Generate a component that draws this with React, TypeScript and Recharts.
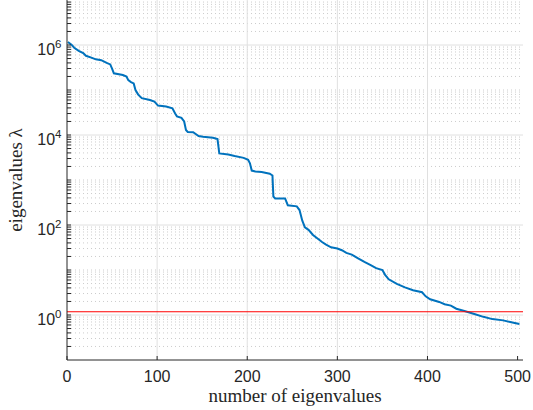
import { CartesianGrid, Line, LineChart, ReferenceLine, XAxis, YAxis } from "recharts";

// eigenvalue index and value
const index = [
  1, 5, 8, 13, 18, 21, 27, 32, 38, 44, 48, 50, 52, 62, 66, 68, 71, 74, 76, 79, 83, 92, 97, 101, 110, 117,
  120, 122, 127, 130, 132, 134, 140, 146, 151, 162, 167, 169, 179, 186, 196, 201, 203, 205, 209, 216, 225,
  228, 229, 231, 242, 245, 255, 258, 261, 264, 268, 273, 278, 283, 287, 293, 300, 305, 310, 316, 323, 330,
  337, 343, 350, 353, 357, 366, 375, 384, 394, 398, 403, 413, 419, 426, 432, 441, 452, 462, 472, 484, 493, 502,
];
const eigenvalues = [
  1.17e6, 1.02e6, 8.7e5, 7.4e5, 6.6e5, 5.75e5, 5.25e5, 4.8e5, 4.6e5, 4.0e5, 3.7e5, 3.0e5, 2.35e5, 2.15e5,
  2.0e5, 1.66e5, 1.5e5, 1.4e5, 1.0e5, 7.9e4, 6.6e4, 6.0e4, 5.5e4, 4.5e4, 4.3e4, 3.9e4,
  3.0e4, 2.6e4, 2.4e4, 2.0e4, 1.29e4, 1.17e4, 1.15e4, 9.5e3, 9.1e3, 8.7e3, 8.1e3, 3.9e3, 3.7e3, 3.4e3, 3.1e3,
  2.8e3, 2.35e3, 1.62e3, 1.55e3, 1.5e3, 1.38e3,
  1.26e3, 430, 390, 390, 275, 260, 215, 126, 89, 78, 60, 50, 42, 37, 32, 30, 27.5, 24, 22, 18.2, 15.1,
  12.9, 11, 10, 7.8, 6.2, 4.9, 4.1, 3.55, 3.2, 2.6, 2.24, 1.95, 1.74, 1.62, 1.38, 1.23, 1.05, 0.91, 0.81, 0.76, 0.69, 0.63,
];
const threshold = 1.18;

const xTicks = [0, 100, 200, 300, 400, 500];
const xGrid = [100, 200, 300, 400];
const yLabelled = [1, 100, 1e4, 1e6];
const decades = [-1, 0, 1, 2, 3, 4, 5, 6];
const mantissas = [2, 3, 4, 5, 6, 7, 8, 9];

const yMinor: number[] = [];
decades.forEach((k) => {
  if (k % 2 !== 0 && k > -1) yMinor.push(Number(`1e${k}`));
  mantissas.forEach((m) => yMinor.push(Number(`${m}e${k}`)));
});
const yAllTicks = [...yLabelled, ...yMinor].sort((a, b) => a - b);

const data = index.map((n, i) => ({ n, v: eigenvalues[i] }));

const axisColor = "#262626";
const sans = "'Liberation Sans', Arial, sans-serif";
const serif = "'Liberation Serif', 'DejaVu Serif', serif";

function YTick({ x, y, payload }: any) {
  if (!yLabelled.includes(payload.value)) return <g />;
  const exp = Math.round(Math.log10(payload.value));
  return (
    <text x={x} y={y + 10} textAnchor="end" fontFamily={sans} fontSize={16} fill={axisColor}>
      <tspan>10</tspan>
      <tspan dy={-7} fontSize={11.5}>{exp}</tspan>
    </text>
  );
}

function XTick({ x, y, payload }: any) {
  return (
    <text x={x} y={y} textAnchor="middle" fontFamily={sans} fontSize={16} fill={axisColor}>
      {payload.value}
    </text>
  );
}

const Empty = () => <g />;

export default function App() {
  return (
    <div style={{ position: "absolute", left: 0, top: 0, background: "#fff" }}>
      <LineChart width={533} height={410} data={data} margin={{ top: 0, right: 10, bottom: 0, left: 0 }}>
        <CartesianGrid horizontalValues={yMinor} vertical={false} stroke="#cccccc" strokeDasharray="1 3" />
        <CartesianGrid horizontalValues={yLabelled} verticalValues={xGrid} stroke="#e0e0e0" />
        <XAxis
          dataKey="n"
          type="number"
          domain={[0, 506]}
          ticks={xTicks}
          interval={0}
          allowDataOverflow
          height={50}
          tickSize={-4}
          tickMargin={26}
          tick={<XTick />}
          stroke={axisColor}
          label={{
            content: () => (
              <text x={295} y={402} textAnchor="middle" fontFamily={serif} fontSize={19} fill={axisColor}>
                number of eigenvalues
              </text>
            ),
          }}
        />
        <XAxis
          xAxisId="top"
          orientation="top"
          type="number"
          domain={[0, 506]}
          ticks={xTicks}
          interval={0}
          allowDataOverflow
          height={0}
          axisLine={false}
          tickSize={-4}
          tick={<Empty />}
          stroke={axisColor}
        />
        <YAxis
          dataKey="v"
          scale="log"
          type="number"
          domain={[0.1, 1e7]}
          ticks={yAllTicks}
          interval={0}
          allowDataOverflow
          width={67}
          tickSize={-4}
          tickMargin={9.5}
          tick={<YTick />}
          stroke={axisColor}
          label={{
            content: () => (
              <text
                x={22}
                y={180}
                transform="rotate(-90 22 180)"
                textAnchor="middle"
                fontFamily={serif}
                fontSize={19}
                fill={axisColor}
              >
                eigenvalues λ
              </text>
            ),
          }}
        />
        <YAxis
          yAxisId="right"
          orientation="right"
          scale="log"
          type="number"
          domain={[0.1, 1e7]}
          ticks={yAllTicks}
          interval={0}
          allowDataOverflow
          width={0}
          tickSize={-4}
          tick={<Empty />}
          stroke={axisColor}
        />
        <Line
          dataKey="v"
          type="linear"
          stroke="#0072BD"
          strokeWidth={2}
          dot={false}
          isAnimationActive={false}
        />
        <ReferenceLine y={threshold} stroke="#ff0000" strokeWidth={1} />
      </LineChart>
    </div>
  );
}
